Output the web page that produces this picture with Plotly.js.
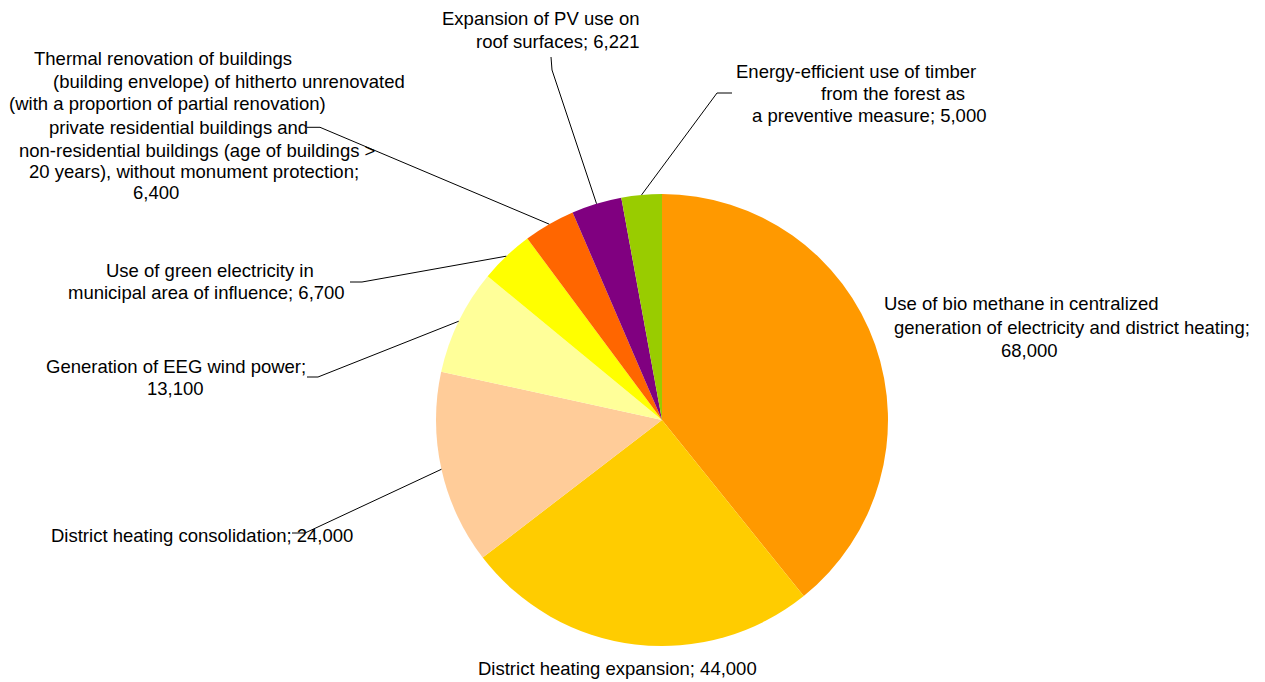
<!DOCTYPE html>
<html>
<head>
<meta charset="utf-8">
<script src="https://cdn.plot.ly/plotly-3.0.1.min.js"></script>
<style>
  html, body { margin: 0; padding: 0; background: #fff; }
  #chart { width: 1265px; height: 682px; }
</style>
</head>
<body>
<div id="chart"></div>
<script>
// CO2 reduction potential per measure (t CO2 / year)
const categories = [
  "Use of bio methane in centralized\ngeneration of electricity and district heating",
  "District heating expansion",
  "District heating consolidation",
  "Generation of EEG wind power",
  "Use of green electricity in\nmunicipal area of influence",
  "Thermal renovation of buildings\n(building envelope) of hitherto unrenovated\n(with a proportion of partial renovation)\nprivate residential buildings and\nnon-residential buildings (age of buildings >\n20 years), without monument protection",
  "Expansion of PV use on\nroof surfaces",
  "Energy-efficient use of timber\nfrom the forest as\na preventive measure"
];
const values = [68000, 44000, 24000, 13100, 6700, 6400, 6221, 5000];
// whether the value goes on its own line after the name
const valueOnNewLine = [true, false, false, true, false, true, false, false];

const colors = ["#FF9900", "#FFCC00", "#FFCC99", "#FFFF99", "#FFFF00", "#FF6600", "#800080", "#99CC00"];

// Figure geometry (pixels)
const W = 1265, H = 682;
const pieDomain = { x: [0.34466, 0.70198], y: [0.05279, 0.71554] };
const fontSize = 18.5;

// Label placement: centre of each text line, plus the leader line bend and end
const labelLayout = [
  { lines: [[1021.3, 303.3], [1071.7, 327.3], [1029.2, 350]] },
  { lines: [[617.8, 668.3]] },
  { lines: [[202.3, 535]], bend: [305, 533], end: [292, 533] },
  { lines: [[176.3, 366.7], [175.5, 388.3]], bend: [318, 377], end: [307, 377] },
  { lines: [[210, 270.7], [206, 292.3]], bend: [362, 282], end: [350, 282] },
  { lines: [[163.2, 58.3], [228.5, 81.7], [167.5, 103.5], [178, 127], [197, 150], [193.5, 171.7], [155.5, 192.5]],
    bend: [320, 127.3], end: [307, 127.3] },
  { lines: [[540.5, 19], [558.3, 41.7]], bend: [552, 70], end: [551, 57] },
  { lines: [[855.8, 71.7], [892.5, 93.3], [868.7, 115.7]], bend: [717, 93], end: [732, 93] }
];

const fmt = v => v.toLocaleString("en-US");
const px = x => x / W;
const py = y => 1 - y / H;

// Pie centre and radius as drawn by Plotly for the given domain
const cx = (pieDomain.x[0] + pieDomain.x[1]) / 2 * W;
const cy = (1 - (pieDomain.y[0] + pieDomain.y[1]) / 2) * H;
const radius = Math.min((pieDomain.x[1] - pieDomain.x[0]) * W, (pieDomain.y[1] - pieDomain.y[0]) * H) / 2;

const total = values.reduce((a, b) => a + b, 0);

const annotations = [];
const shapes = [];
let cum = 0;
values.forEach((v, i) => {
  // mid angle of the slice, clockwise from 12 o'clock
  const theta = 2 * Math.PI * (cum + v / 2) / total;
  cum += v;
  const edge = [cx + radius * Math.sin(theta), cy - radius * Math.cos(theta)];

  const text = categories[i] + ";" + (valueOnNewLine[i] ? "\n" : " ") + fmt(v);
  const lines = text.split("\n");
  const spec = labelLayout[i];
  lines.forEach((ln, k) => {
    const pos = spec.lines[k];
    annotations.push({
      xref: "paper", yref: "paper",
      x: px(pos[0]), y: py(pos[1]),
      xanchor: "center", yanchor: "middle",
      text: ln, showarrow: false,
      font: { family: "Liberation Sans, Arial, sans-serif", size: fontSize, color: "#000" }
    });
  });

  if (spec.bend) {
    const path = "M" + px(edge[0]) + "," + py(edge[1]) +
                 " L" + px(spec.bend[0]) + "," + py(spec.bend[1]) +
                 " L" + px(spec.end[0]) + "," + py(spec.end[1]);
    shapes.push({
      type: "path", xref: "paper", yref: "paper", path: path,
      line: { color: "#000", width: 1 }
    });
  }
});

const trace = {
  type: "pie",
  labels: categories.map(c => c.replace(/\n/g, " ")),
  values: values,
  sort: false,
  direction: "clockwise",
  rotation: 0,
  textinfo: "none",
  hoverinfo: "label+value",
  marker: { colors: colors, line: { width: 0 } },
  domain: pieDomain,
  showlegend: false
};

const layout = {
  width: W, height: H,
  margin: { l: 0, r: 0, t: 0, b: 0 },
  paper_bgcolor: "#fff",
  showlegend: false,
  annotations: annotations,
  shapes: shapes
};

Plotly.newPlot("chart", [trace], layout, { displayModeBar: false, staticPlot: true });
</script>
</body>
</html>
